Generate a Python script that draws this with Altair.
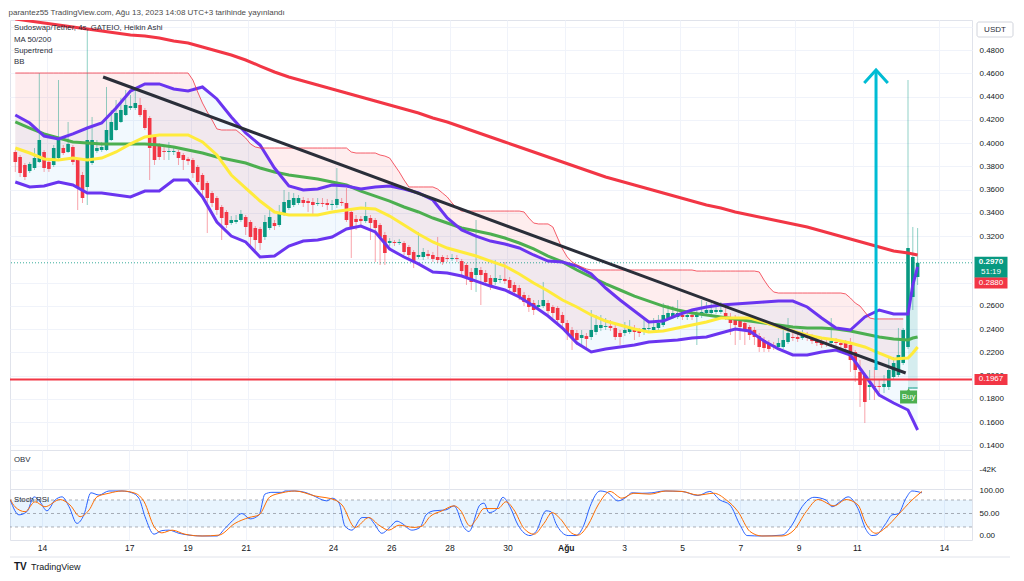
import altair as alt
import pandas as pd

FONT = "Liberation Sans"
GREEN = "#089981"
RED = "#f23645"

# ---------------- data ----------------
T0 = -0.0893      # first 4h bar, days since 13 Jul 2023 00:00
BAR = 1 / 6       # 4-hour bars

ha_open = [
    0.3923, 0.3880, 0.3811, 0.3759, 0.3785, 0.3837, 0.3923, 0.3837, 0.3811, 0.3871,
    0.3957, 0.3923, 0.3966, 0.3854, 0.3725, 0.3622, 0.3828, 0.3931, 0.3940, 0.3940,
    0.4026, 0.4112, 0.4181, 0.4241, 0.4301, 0.4301, 0.4327, 0.4284, 0.4215, 0.4052,
    0.3983, 0.3931, 0.3923, 0.3923, 0.3923, 0.3897, 0.3863, 0.3854, 0.3794, 0.3725,
    0.3656, 0.3570, 0.3527, 0.3450, 0.3407, 0.3312, 0.3321, 0.3338, 0.3364, 0.3321,
    0.3269, 0.3261, 0.3192, 0.3269, 0.3312, 0.3295, 0.3390, 0.3441, 0.3467, 0.3484,
    0.3510, 0.3501, 0.3493, 0.3476, 0.3484, 0.3484, 0.3467, 0.3467, 0.3493, 0.3484,
    0.3407, 0.3347, 0.3347, 0.3329, 0.3355, 0.3338, 0.3295, 0.3209, 0.3140, 0.3149,
    0.3140, 0.3140, 0.3106, 0.3063, 0.3020, 0.3020, 0.3046, 0.3037, 0.3020, 0.3020,
    0.3011, 0.3003, 0.3011, 0.2985, 0.2951, 0.2891, 0.2865, 0.2908, 0.2882, 0.2839,
    0.2805, 0.2822, 0.2831, 0.2822, 0.2779, 0.2753, 0.2693, 0.2667, 0.2624, 0.2590,
    0.2598, 0.2624, 0.2590, 0.2581, 0.2521, 0.2452, 0.2392, 0.2366, 0.2323, 0.2340,
    0.2332, 0.2375, 0.2409, 0.2418, 0.2426, 0.2409, 0.2366, 0.2366, 0.2375, 0.2392,
    0.2383, 0.2375, 0.2401, 0.2392, 0.2409, 0.2435, 0.2495, 0.2504, 0.2504, 0.2521,
    0.2504, 0.2521, 0.2504, 0.2521, 0.2538, 0.2538, 0.2547, 0.2547, 0.2538, 0.2504,
    0.2495, 0.2478, 0.2452, 0.2418, 0.2392, 0.2340, 0.2306, 0.2280, 0.2263, 0.2246,
    0.2246, 0.2289, 0.2332, 0.2332, 0.2323, 0.2340, 0.2332, 0.2306, 0.2297, 0.2280,
    0.2280, 0.2289, 0.2280, 0.2289, 0.2263, 0.2203, 0.2031, 0.2005, 0.1902, 0.1910,
    0.1910, 0.1902, 0.1902, 0.1988, 0.2005, 0.2108, 0.2246, 0.2676, 0.2848,
]
ha_close = [
    0.3837, 0.3742, 0.3708, 0.3820, 0.3871, 0.4026, 0.3785, 0.3777, 0.3957, 0.4043,
    0.3914, 0.3992, 0.3837, 0.3622, 0.3527, 0.4026, 0.4026, 0.3957, 0.3966, 0.4112,
    0.4181, 0.4258, 0.4284, 0.4327, 0.4318, 0.4344, 0.4241, 0.4129, 0.3957, 0.3854,
    0.3880, 0.3923, 0.3931, 0.3931, 0.3871, 0.3854, 0.3845, 0.3742, 0.3665, 0.3596,
    0.3527, 0.3484, 0.3424, 0.3355, 0.3295, 0.3338, 0.3338, 0.3390, 0.3278, 0.3192,
    0.3166, 0.3140, 0.3321, 0.3364, 0.3286, 0.3390, 0.3493, 0.3510, 0.3527, 0.3527,
    0.3484, 0.3484, 0.3467, 0.3484, 0.3476, 0.3467, 0.3476, 0.3519, 0.3484, 0.3338,
    0.3269, 0.3321, 0.3329, 0.3372, 0.3312, 0.3269, 0.3192, 0.3054, 0.3157, 0.3140,
    0.3149, 0.3063, 0.3037, 0.2977, 0.3037, 0.3063, 0.3028, 0.3003, 0.2994, 0.2977,
    0.3003, 0.3011, 0.3003, 0.2899, 0.2848, 0.2805, 0.2925, 0.2865, 0.2805, 0.2779,
    0.2839, 0.2831, 0.2813, 0.2753, 0.2719, 0.2676, 0.2633, 0.2590, 0.2564, 0.2607,
    0.2650, 0.2555, 0.2538, 0.2478, 0.2452, 0.2366, 0.2323, 0.2306, 0.2349, 0.2315,
    0.2392, 0.2435, 0.2435, 0.2426, 0.2409, 0.2332, 0.2332, 0.2392, 0.2409, 0.2375,
    0.2366, 0.2409, 0.2409, 0.2418, 0.2452, 0.2521, 0.2538, 0.2538, 0.2538, 0.2504,
    0.2521, 0.2504, 0.2521, 0.2547, 0.2564, 0.2564, 0.2564, 0.2564, 0.2512, 0.2452,
    0.2435, 0.2418, 0.2392, 0.2349, 0.2332, 0.2246, 0.2237, 0.2229, 0.2246, 0.2280,
    0.2306, 0.2366, 0.2323, 0.2315, 0.2340, 0.2323, 0.2297, 0.2280, 0.2263, 0.2272,
    0.2297, 0.2280, 0.2263, 0.2237, 0.2134, 0.2048, 0.1919, 0.1773, 0.1919, 0.1902,
    0.1902, 0.1928, 0.2048, 0.2108, 0.2177, 0.2392, 0.3097, 0.3020, 0.2970,
]
ha_high = [
    0.3940, 0.3897, 0.3828, 0.3837, 0.3957, 0.4602, 0.3940, 0.3854, 0.3983, 0.4542,
    0.3983, 0.4181, 0.3983, 0.3871, 0.3751, 0.4990, 0.4224, 0.4026, 0.4009, 0.4482,
    0.4284, 0.4370, 0.4387, 0.4456, 0.4413, 0.4473, 0.4387, 0.4301, 0.4232, 0.4069,
    0.4000, 0.3983, 0.4009, 0.3966, 0.3940, 0.3914, 0.3880, 0.3871, 0.3811, 0.3742,
    0.3673, 0.3587, 0.3544, 0.3467, 0.3424, 0.3372, 0.3381, 0.3424, 0.3381, 0.3338,
    0.3286, 0.3278, 0.3381, 0.3424, 0.3338, 0.3467, 0.3596, 0.3579, 0.3570, 0.3553,
    0.3536, 0.3527, 0.3527, 0.3527, 0.3527, 0.3519, 0.3510, 0.3785, 0.3527, 0.3613,
    0.3424, 0.3381, 0.3372, 0.3493, 0.3381, 0.3355, 0.3312, 0.3235, 0.3183, 0.3166,
    0.3175, 0.3157, 0.3123, 0.3080, 0.3235, 0.3097, 0.3080, 0.3063, 0.3192, 0.3037,
    0.3037, 0.3046, 0.3037, 0.3003, 0.2968, 0.2925, 0.3338, 0.2934, 0.2908, 0.2865,
    0.2994, 0.2865, 0.2977, 0.2848, 0.2805, 0.2779, 0.2719, 0.2693, 0.2650, 0.2650,
    0.2805, 0.2650, 0.2607, 0.2598, 0.2547, 0.2478, 0.2418, 0.2392, 0.2392, 0.2366,
    0.2564, 0.2521, 0.2521, 0.2495, 0.2478, 0.2435, 0.2392, 0.2461, 0.2478, 0.2435,
    0.2409, 0.2495, 0.2478, 0.2495, 0.2521, 0.2624, 0.2607, 0.2598, 0.2650, 0.2564,
    0.2564, 0.2564, 0.2581, 0.2650, 0.2633, 0.2624, 0.2624, 0.2633, 0.2581, 0.2538,
    0.2521, 0.2504, 0.2478, 0.2435, 0.2418, 0.2366, 0.2332, 0.2306, 0.2289, 0.2323,
    0.2392, 0.2495, 0.2375, 0.2366, 0.2392, 0.2375, 0.2358, 0.2332, 0.2323, 0.2306,
    0.2495, 0.2323, 0.2306, 0.2306, 0.2323, 0.2220, 0.2134, 0.2022, 0.2048, 0.2074,
    0.1962, 0.2005, 0.2160, 0.2160, 0.2409, 0.2409, 0.4542, 0.3278, 0.3269,
]
ha_low = [
    0.3751, 0.3708, 0.3682, 0.3742, 0.3768, 0.3828, 0.3751, 0.3751, 0.3794, 0.3854,
    0.3897, 0.3914, 0.3811, 0.3424, 0.3484, 0.3467, 0.3811, 0.3914, 0.3923, 0.3931,
    0.4017, 0.4103, 0.4172, 0.4232, 0.4284, 0.4284, 0.4224, 0.4112, 0.3682, 0.3811,
    0.3854, 0.3854, 0.3854, 0.3897, 0.3811, 0.3768, 0.3811, 0.3699, 0.3639, 0.3553,
    0.3226, 0.3450, 0.3381, 0.3166, 0.3269, 0.3295, 0.3304, 0.3321, 0.3209, 0.3123,
    0.3080, 0.3080, 0.3166, 0.3252, 0.3252, 0.3278, 0.3372, 0.3424, 0.3450, 0.3467,
    0.3450, 0.3407, 0.3381, 0.3458, 0.3450, 0.3424, 0.3424, 0.3441, 0.3458, 0.3321,
    0.3011, 0.3252, 0.3295, 0.3312, 0.3166, 0.2977, 0.2951, 0.2951, 0.3114, 0.3114,
    0.3123, 0.3037, 0.3011, 0.2925, 0.3003, 0.2994, 0.3003, 0.2977, 0.2968, 0.2951,
    0.2977, 0.2985, 0.2977, 0.2865, 0.2779, 0.2736, 0.2719, 0.2607, 0.2779, 0.2736,
    0.2779, 0.2796, 0.2788, 0.2719, 0.2684, 0.2650, 0.2598, 0.2547, 0.2521, 0.2564,
    0.2581, 0.2521, 0.2495, 0.2435, 0.2392, 0.2306, 0.2220, 0.2263, 0.2263, 0.2229,
    0.2306, 0.2349, 0.2383, 0.2392, 0.2383, 0.2306, 0.2263, 0.2340, 0.2358, 0.2306,
    0.2332, 0.2349, 0.2366, 0.2375, 0.2383, 0.2418, 0.2478, 0.2487, 0.2487, 0.2478,
    0.2478, 0.2478, 0.2263, 0.2495, 0.2512, 0.2521, 0.2530, 0.2530, 0.2478, 0.2349,
    0.2263, 0.2306, 0.2263, 0.2306, 0.2263, 0.2203, 0.2203, 0.2203, 0.2220, 0.2229,
    0.2229, 0.2272, 0.2297, 0.2289, 0.2306, 0.2297, 0.2272, 0.2254, 0.2237, 0.2246,
    0.2263, 0.2254, 0.2237, 0.2203, 0.2031, 0.1945, 0.1730, 0.1592, 0.1790, 0.1790,
    0.1859, 0.1850, 0.1876, 0.1962, 0.1988, 0.2091, 0.2229, 0.2564, 0.2779,
]
supertrend = (
    [0.4602] * 37
    + [0.4542, 0.4439, 0.4344, 0.4267, 0.4198, 0.4121]
    + [0.4112] * 4
    + [0.4078, 0.4043, 0.3992, 0.3966]
    + [0.3957] * 19
    + [0.3923]
    + [0.3914] * 5
    + [0.3897, 0.3888, 0.3871, 0.3811, 0.3751, 0.3682]
    + [0.3622] * 6
    + [0.3604, 0.3570, 0.3536, 0.3484, 0.3441]
    + [0.3415] * 13
    + [0.3407, 0.3355, 0.3312]
    + [0.3304] * 3
    + [0.3278, 0.3183, 0.3089, 0.3020, 0.2977, 0.2951, 0.2934, 0.2917]
    + [0.2908] * 22
    + [0.2899] * 13
    + [0.2891, 0.2822, 0.2762, 0.2719]
    + [0.2710] * 14
    + [0.2702, 0.2667, 0.2624, 0.2598, 0.2547, 0.2495]
    + [0.2487] * 7
    + [0.1893] * 3
)
TREND_FLIP = 186   # first bar of the up-trend

# indicator samples (every 3rd bar + the last two bars)
bb_bars = list(range(0, 187, 3)) + [187, 188]
bb_upper = [
    0.4241, 0.4172, 0.4060, 0.4035, 0.4078, 0.4129, 0.4172, 0.4301, 0.4447, 0.4508,
    0.4508, 0.4465, 0.4447, 0.4482, 0.4379, 0.4224, 0.4086, 0.3983, 0.3785, 0.3630,
    0.3596, 0.3605, 0.3639, 0.3630, 0.3605, 0.3622, 0.3630, 0.3605, 0.3570, 0.3510,
    0.3355, 0.3252, 0.3200, 0.3157, 0.3132, 0.3097, 0.3037, 0.2985, 0.2977, 0.2942,
    0.2874, 0.2753, 0.2650, 0.2555, 0.2461, 0.2469, 0.2521, 0.2564, 0.2590, 0.2607,
    0.2616, 0.2624, 0.2633, 0.2641, 0.2641, 0.2590, 0.2495, 0.2409, 0.2392, 0.2504,
    0.2564, 0.2530, 0.2530, 0.2779, 0.2934,
]
bb_basis = [
    0.3957, 0.3914, 0.3863, 0.3854, 0.3871, 0.3854, 0.3871, 0.3923, 0.3992, 0.4052,
    0.4069, 0.4069, 0.4069, 0.4009, 0.3897, 0.3725, 0.3613, 0.3501, 0.3407, 0.3381,
    0.3381, 0.3381, 0.3407, 0.3424, 0.3441, 0.3433, 0.3372, 0.3295, 0.3218, 0.3149,
    0.3097, 0.3063, 0.3028, 0.2985, 0.2942, 0.2874, 0.2796, 0.2727, 0.2650, 0.2590,
    0.2521, 0.2469, 0.2435, 0.2401, 0.2375, 0.2383, 0.2409, 0.2435, 0.2461, 0.2495,
    0.2495, 0.2495, 0.2461, 0.2418, 0.2383, 0.2349, 0.2323, 0.2306, 0.2280, 0.2246,
    0.2194, 0.2143, 0.2151, 0.2194, 0.2246,
]
bb_lower = [
    0.3665, 0.3622, 0.3630, 0.3665, 0.3639, 0.3570, 0.3570, 0.3553, 0.3536, 0.3587,
    0.3587, 0.3682, 0.3682, 0.3536, 0.3321, 0.3200, 0.3149, 0.3020, 0.3028, 0.3114,
    0.3157, 0.3166, 0.3192, 0.3261, 0.3286, 0.3235, 0.3089, 0.3020, 0.2960, 0.2891,
    0.2882, 0.2856, 0.2813, 0.2770, 0.2736, 0.2676, 0.2598, 0.2512, 0.2409, 0.2280,
    0.2203, 0.2229, 0.2246, 0.2263, 0.2289, 0.2297, 0.2306, 0.2323, 0.2332, 0.2366,
    0.2401, 0.2383, 0.2297, 0.2229, 0.2177, 0.2177, 0.2203, 0.2220, 0.2177, 0.2005,
    0.1833, 0.1764, 0.1704, 0.1618, 0.1532,
]
ma50 = [
    0.4181, 0.4129, 0.4078, 0.4043, 0.4009, 0.4000, 0.3992, 0.3992, 0.3992, 0.3992,
    0.3983, 0.3966, 0.3940, 0.3914, 0.3880, 0.3854, 0.3828, 0.3785, 0.3751, 0.3725,
    0.3708, 0.3691, 0.3665, 0.3639, 0.3587, 0.3544, 0.3501, 0.3450, 0.3407, 0.3355,
    0.3312, 0.3269, 0.3243, 0.3218, 0.3183, 0.3140, 0.3089, 0.3028, 0.2977, 0.2908,
    0.2848, 0.2788, 0.2736, 0.2684, 0.2641, 0.2598, 0.2564, 0.2538, 0.2521, 0.2504,
    0.2487, 0.2469, 0.2452, 0.2435, 0.2418, 0.2409, 0.2409, 0.2401, 0.2383, 0.2358,
    0.2332, 0.2315, 0.2306, 0.2323, 0.2332,
]
ma200 = [
    0.5067, 0.5049, 0.5032, 0.5015, 0.4998, 0.4981, 0.4963, 0.4946, 0.4929, 0.4920,
    0.4903, 0.4877, 0.4860, 0.4826, 0.4791, 0.4757, 0.4714, 0.4662, 0.4611, 0.4568,
    0.4533, 0.4499, 0.4465, 0.4430, 0.4396, 0.4361, 0.4327, 0.4293, 0.4258, 0.4215,
    0.4181, 0.4138, 0.4095, 0.4052, 0.4009, 0.3966, 0.3923, 0.3880, 0.3837, 0.3794,
    0.3751, 0.3708, 0.3673, 0.3639, 0.3605, 0.3570, 0.3536, 0.3501, 0.3467, 0.3441,
    0.3407, 0.3381, 0.3355, 0.3329, 0.3304, 0.3278, 0.3243, 0.3209, 0.3175, 0.3140,
    0.3106, 0.3071, 0.3054, 0.3046, 0.3037,
]

# drawings
trend_t = [2.96, 30.83]
trend_p = [0.4568, 0.2022]
level_p = 0.1967
arrow_t = [29.80, 29.80, 29.39, 29.80, 30.21]
arrow_p = [0.2048, 0.4628, 0.4516, 0.4628, 0.4516]
arrow_part = ["shaft", "shaft", "head", "head", "head"]

# Stoch RSI
k_t = [-0.09, 0.21, 0.48, 0.73, 0.93, 1.17, 1.45, 1.69, 1.93, 2.20,
       2.44, 2.68, 2.96, 3.30, 3.75, 4.09, 4.33, 4.54, 4.85, 5.12,
       5.36, 5.71, 6.05, 6.50, 7.01, 7.29, 7.63, 7.87, 8.15, 8.46,
       8.66, 8.90, 9.25, 9.35, 9.69, 10.04, 10.28, 10.79, 10.97, 11.21,
       11.41, 11.65, 12.00, 12.23, 12.41, 12.68, 12.92, 13.20, 13.37, 13.71,
       13.99, 14.20, 14.47, 14.88, 15.16, 15.50, 15.67, 16.05, 16.19, 16.36,
       16.60, 16.84, 17.08, 17.36, 17.77, 17.98, 18.32, 18.49, 18.66, 19.08,
       19.35, 19.62, 19.83, 20.18, 20.45, 20.79, 21.07, 21.27, 21.62, 21.96,
       22.37, 22.99, 23.54, 23.95, 24.30, 24.64, 24.99, 25.23, 25.74, 26.43,
       26.77, 27.12, 27.53, 27.94, 28.15, 28.42, 28.70, 29.04, 29.31, 29.52,
       29.66, 30.00, 30.21, 30.42, 30.69, 30.90, 31.24]
k_v = [80, 47, 54, 87, 76, 56, 80, 87, 65, 28,
       47, 96, 91, 100, 100, 96, 84, 43, 4, 12,
       13, 6, 2, 0, 0, 17, 39, 50, 38, 47,
       93, 97, 97, 100, 100, 97, 91, 78, 84, 73,
       22, 13, 41, 41, 28, 6, 17, 33, 28, 13,
       19, 47, 56, 58, 67, 19, 10, 69, 73, 52,
       58, 86, 65, 24, 1, 10, 56, 54, 28, 1,
       1, 24, 65, 100, 96, 78, 86, 96, 95, 96,
       100, 99, 90, 99, 80, 69, 24, 1, 0, 2,
       24, 65, 86, 80, 65, 76, 87, 61, 15, 1,
       2, 28, 47, 49, 84, 100, 96]
d_t = [-0.09, 0.07, 0.42, 0.76, 1.10, 1.62, 1.96, 2.31, 2.62, 2.89,
       3.30, 3.75, 4.20, 4.51, 4.85, 5.12, 5.47, 5.91, 6.50, 7.08,
       7.63, 8.11, 8.46, 8.83, 9.25, 9.69, 10.38, 11.07, 11.31, 11.76,
       12.23, 12.58, 12.92, 13.27, 13.78, 14.06, 14.33, 14.75, 15.16, 15.37,
       15.71, 15.91, 16.19, 16.67, 16.94, 17.22, 17.56, 17.91, 18.25, 18.53,
       18.80, 19.21, 19.42, 19.76, 20.11, 20.52, 20.93, 21.34, 21.89, 22.44,
       22.99, 23.54, 24.09, 24.50, 24.92, 25.33, 25.74, 26.43, 26.84, 27.26,
       27.67, 28.22, 28.63, 29.04, 29.31, 29.66, 30.00, 30.42, 30.90, 31.24]
d_v = [81, 65, 54, 76, 65, 81, 69, 43, 58, 87,
       95, 100, 95, 76, 21, 7, 13, 4, 0, 2,
       28, 41, 47, 87, 96, 100, 89, 80, 69, 19,
       41, 24, 13, 24, 19, 22, 43, 56, 67, 58,
       22, 36, 61, 61, 76, 58, 17, 4, 28, 52,
       39, 6, 2, 24, 69, 99, 84, 95, 93, 100,
       99, 91, 95, 81, 54, 10, 0, 0, 13, 54,
       81, 67, 81, 69, 28, 6, 19, 47, 80, 99]

# axes
x_ticks = [1, 4, 6, 8, 11, 13, 15, 17, 19, 21, 23, 25, 27, 29, 32]
x_labels = ["14", "17", "19", "21", "24", "26", "28", "30", "Ağu", "3", "5", "7", "9", "11", "14"]
price_ticks = [0.14, 0.16, 0.18, 0.20, 0.22, 0.24, 0.26, 0.28, 0.30, 0.32, 0.34,
               0.36, 0.38, 0.40, 0.42, 0.44, 0.46, 0.48, 0.50]
hidden_price_labels = [0.28, 0.30, 0.50]   # covered by the tags on the scale

# ---------------- frames ----------------
n = len(ha_open)
candles = pd.DataFrame({
    "t": [T0 + i * BAR for i in range(n)],
    "o": ha_open, "c": ha_close, "h": ha_high, "l": ha_low, "st": supertrend,
})
candles["mid"] = (candles["o"] + candles["c"]) / 2
down = candles.iloc[:TREND_FLIP]
up = candles.iloc[TREND_FLIP:]

ind = pd.DataFrame({
    "t": [T0 + i * BAR for i in bb_bars],
    "upper": bb_upper, "basis": bb_basis, "lower": bb_lower,
    "ma50": ma50, "ma200": ma200,
})
trend = pd.DataFrame({"t": trend_t, "p": trend_p})
arrow = pd.DataFrame({"t": arrow_t, "p": arrow_p, "part": arrow_part,
                      "k": list(range(len(arrow_t)))})
kdf = pd.DataFrame({"t": k_t, "v": k_v})
ddf = pd.DataFrame({"t": d_t, "v": d_v})
last_close = ha_close[-1]

# ---------------- layout ----------------
W = 962
H_MAIN, H_OBV, H_ST = 430, 39, 51
XDOM = [-0.0997, 32.959]
xscale = alt.Scale(domain=XDOM, nice=False, zero=False)
x_grid_axis = alt.Axis(values=x_ticks, labels=False, ticks=False, domain=False,
                       grid=True, title=None)
lab_expr = "[" + ",".join(f"'{s}'" for s in x_labels) + "][indexof([" + \
    ",".join(str(v) for v in x_ticks) + "], datum.value)]"
x_lab_axis = alt.Axis(values=x_ticks, labelExpr=lab_expr, ticks=False, domain=False,
                      grid=True, title=None, labelPadding=3, labelFontSize=8.5,
                      labelFontWeight={"condition": {"test": "datum.value == 19", "value": "bold"},
                                       "value": "normal"})


def XG():
    return alt.X("t:Q", scale=xscale, axis=x_grid_axis, title=None)


def XL():
    return alt.X("t:Q", scale=xscale, axis=x_lab_axis, title=None)


hide_test = " || ".join(f"abs(datum.value - {v}) < 0.001" for v in hidden_price_labels)
main_yscale = alt.Scale(domain=[0.136, 0.5058], nice=False, zero=False)
main_yaxis = alt.Axis(orient="right", values=price_ticks, labelPadding=7, grid=True, title=None,
                      labelExpr=f"({hide_test}) ? '' : format(datum.value, '.4f')")


def YM(f):
    return alt.Y(f"{f}:Q", scale=main_yscale, axis=main_yaxis, title=None)


def text_at(s, x, y, size=7.8, color="#2a2e39", weight="normal", align="left"):
    return alt.Chart(pd.DataFrame({"s": [s]})).mark_text(
        align=align, baseline="middle", font=FONT, fontSize=size, color=color,
        fontWeight=weight).encode(text="s:N", x=alt.value(x), y=alt.value(y))


color_cond = alt.condition("datum.c >= datum.o", alt.value(GREEN), alt.value(RED))

layers = [
    alt.Chart(down).mark_area(color=RED, opacity=0.09, clip=True).encode(x=XG(), y=YM("st"), y2="mid:Q"),
    alt.Chart(up).mark_area(color=GREEN, opacity=0.12, clip=True).encode(x=XG(), y=YM("st"), y2="mid:Q"),
    alt.Chart(ind).mark_area(color="#2196f3", opacity=0.06, clip=True).encode(
        x=XG(), y=YM("upper"), y2="lower:Q"),
    alt.Chart(pd.DataFrame({"p": [last_close]})).mark_rule(
        color=GREEN, strokeDash=[1, 2], strokeWidth=1, opacity=0.8).encode(y=YM("p")),
    alt.Chart(candles).mark_rule(strokeWidth=1, opacity=0.45, clip=True).encode(
        x=XG(), y=YM("l"), y2="h:Q", color=color_cond),
    alt.Chart(candles).mark_bar(size=3.6, clip=True).encode(x=XG(), y=YM("o"), y2="c:Q", color=color_cond),
    alt.Chart(ind).mark_line(color="#f23645", strokeWidth=3, clip=True).encode(x=XG(), y=YM("ma200")),
    alt.Chart(ind).mark_line(color="#4caf50", strokeWidth=3, clip=True).encode(x=XG(), y=YM("ma50")),
    alt.Chart(ind).mark_line(color="#ffeb3b", strokeWidth=3, clip=True).encode(x=XG(), y=YM("basis")),
    alt.Chart(ind).mark_line(color="#6a35f0", strokeWidth=3, clip=True).encode(x=XG(), y=YM("upper")),
    alt.Chart(ind).mark_line(color="#6a35f0", strokeWidth=3, clip=True).encode(x=XG(), y=YM("lower")),
    alt.Chart(down).mark_line(color=RED, strokeWidth=1, opacity=0.8, clip=True).encode(x=XG(), y=YM("st")),
    alt.Chart(up).mark_line(color=GREEN, strokeWidth=1, clip=True).encode(x=XG(), y=YM("st")),
    alt.Chart(trend).mark_line(color="#2a2e39", strokeWidth=3).encode(x=XG(), y=YM("p")),
    alt.Chart(pd.DataFrame({"p": [level_p]})).mark_rule(color=RED, strokeWidth=2).encode(y=YM("p")),
    alt.Chart(arrow).mark_line(color="#00bcd4", strokeWidth=3).encode(
        x=XG(), y=YM("p"), detail="part:N", order="k:Q"),
    # Buy label
    alt.Chart(pd.DataFrame({"t": [30.93], "p": [0.1816]})).mark_tick(
        orient="horizontal", size=17, thickness=13, color="#4caf50", opacity=1).encode(x=XG(), y=YM("p")),
    alt.Chart(pd.DataFrame({"t": [30.93], "p": [0.1878]})).mark_point(
        shape="triangle-up", filled=True, size=14, color="#4caf50", opacity=1).encode(x=XG(), y=YM("p")),
    alt.Chart(pd.DataFrame({"t": [30.93], "p": [0.1816], "s": ["Buy"]})).mark_text(
        font=FONT, fontSize=8, color="white").encode(x=XG(), y=YM("p"), text="s:N"),
    # price tags on the scale
    alt.Chart(pd.DataFrame({"p": [last_close]})).mark_tick(
        orient="horizontal", size=33, thickness=21, color=GREEN, opacity=1, yOffset=4.5).encode(
        x=alt.value(981), y=YM("p")),
    alt.Chart(pd.DataFrame({"p": [last_close], "s": ["0.2970"]})).mark_text(
        font=FONT, fontSize=8, color="white", fontWeight="bold", dy=-1).encode(
        x=alt.value(981), y=YM("p"), text="s:N"),
    alt.Chart(pd.DataFrame({"p": [last_close], "s": ["51:19"]})).mark_text(
        font=FONT, fontSize=8, color="white", dy=9).encode(x=alt.value(981), y=YM("p"), text="s:N"),
    alt.Chart(pd.DataFrame({"p": [0.2880]})).mark_tick(
        orient="horizontal", size=33, thickness=11, color=RED, opacity=1, yOffset=9.7).encode(
        x=alt.value(981), y=YM("p")),
    alt.Chart(pd.DataFrame({"p": [0.2880], "s": ["0.2880"]})).mark_text(
        font=FONT, fontSize=8, color="white", dy=9.7).encode(x=alt.value(981), y=YM("p"), text="s:N"),
    alt.Chart(pd.DataFrame({"p": [level_p]})).mark_tick(
        orient="horizontal", size=33, thickness=11, color=RED, opacity=1).encode(
        x=alt.value(981), y=YM("p")),
    alt.Chart(pd.DataFrame({"p": [level_p], "s": ["0.1967"]})).mark_text(
        font=FONT, fontSize=8, color="white").encode(x=alt.value(981), y=YM("p"), text="s:N"),
    # USDT box
    alt.Chart(pd.DataFrame({"a": [0]})).mark_rect(
        fill="white", stroke="#d1d4dc", strokeWidth=1, cornerRadius=2).encode(
        x=alt.value(967), x2=alt.value(1003), y=alt.value(2), y2=alt.value(17)),
    text_at("USDT", 985, 9.5, size=8, align="center"),
    # legend
    text_at("Sudoswap/Tether, 4s, GATEIO, Heikin Ashi", 4, 8),
    text_at("MA 50/200", 4, 19.5),
    text_at("Supertrend", 4, 31),
    text_at("BB", 4, 42),
]
main = alt.layer(*layers).properties(width=W, height=H_MAIN)

# OBV pane
obv = alt.layer(
    alt.Chart(pd.DataFrame({"t": [0.0], "v": [-42000]})).mark_point(opacity=0).encode(
        x=XG(),
        y=alt.Y("v:Q", scale=alt.Scale(domain=[-60000, -24000], nice=False, zero=False),
                axis=alt.Axis(orient="right", values=[-42000], labelExpr="'-42K'",
                              labelPadding=7, grid=True, title=None), title=None)),
    text_at("OBV", 4, 10),
).properties(width=W, height=H_OBV)

# Stoch RSI pane
st_scale = alt.Scale(domain=[-8.89, 104.44], nice=False, zero=False)
st_axis = alt.Axis(orient="right", values=[0, 50, 100], format=".2f", labelPadding=7,
                   grid=False, title=None)


def YS(f):
    return alt.Y(f"{f}:Q", scale=st_scale, axis=st_axis, title=None)


stoch = alt.layer(
    alt.Chart(pd.DataFrame({"hi": [80], "lo": [20]})).mark_rect(color="#2196f3", opacity=0.1).encode(
        x=alt.value(0), x2=alt.value(W), y=YS("hi"), y2="lo:Q"),
    alt.Chart(pd.DataFrame({"v": [80, 50, 20]})).mark_rule(
        color="#787b86", strokeDash=[3, 3], strokeWidth=1, opacity=0.6).encode(y=YS("v")),
    alt.Chart(kdf).mark_line(color="#2962ff", strokeWidth=1, interpolate="monotone", clip=True).encode(
        x=XL(), y=YS("v")),
    alt.Chart(ddf).mark_line(color="#ff6d00", strokeWidth=1, interpolate="monotone", clip=True).encode(
        x=XL(), y=YS("v")),
    text_at("Stoch RSI", 4, 11),
    alt.Chart(pd.DataFrame({"a": [0]})).mark_rule(color="#e0e3eb", strokeWidth=1).encode(
        x=alt.value(0), x2=alt.value(W + 38), y=alt.value(68)),
    text_at("TV", 4, 78, size=10, color="#131722", weight="bold"),
    text_at("TradingView", 21, 78, size=9, color="#131722"),
).properties(width=W, height=H_ST)

chart = alt.vconcat(main, obv, stoch, spacing=0, bounds="flush").properties(
    title=alt.TitleParams(
        "parantez55 TradingView.com, Ağu 13, 2023 14:08 UTC+3 tarihinde yayınlandı",
        anchor="start", fontSize=8, font=FONT, color="#4a4a4a", fontWeight="normal", offset=3),
    padding=0,
).configure_view(stroke="#e0e3eb", strokeWidth=1).configure_axis(
    labelFont=FONT, labelFontSize=8, labelColor="#131722", gridColor="#f0f3fa",
    gridWidth=1, domain=False, ticks=False)

chart.save("out.html", embed_options={"renderer": "svg", "actions": False})
